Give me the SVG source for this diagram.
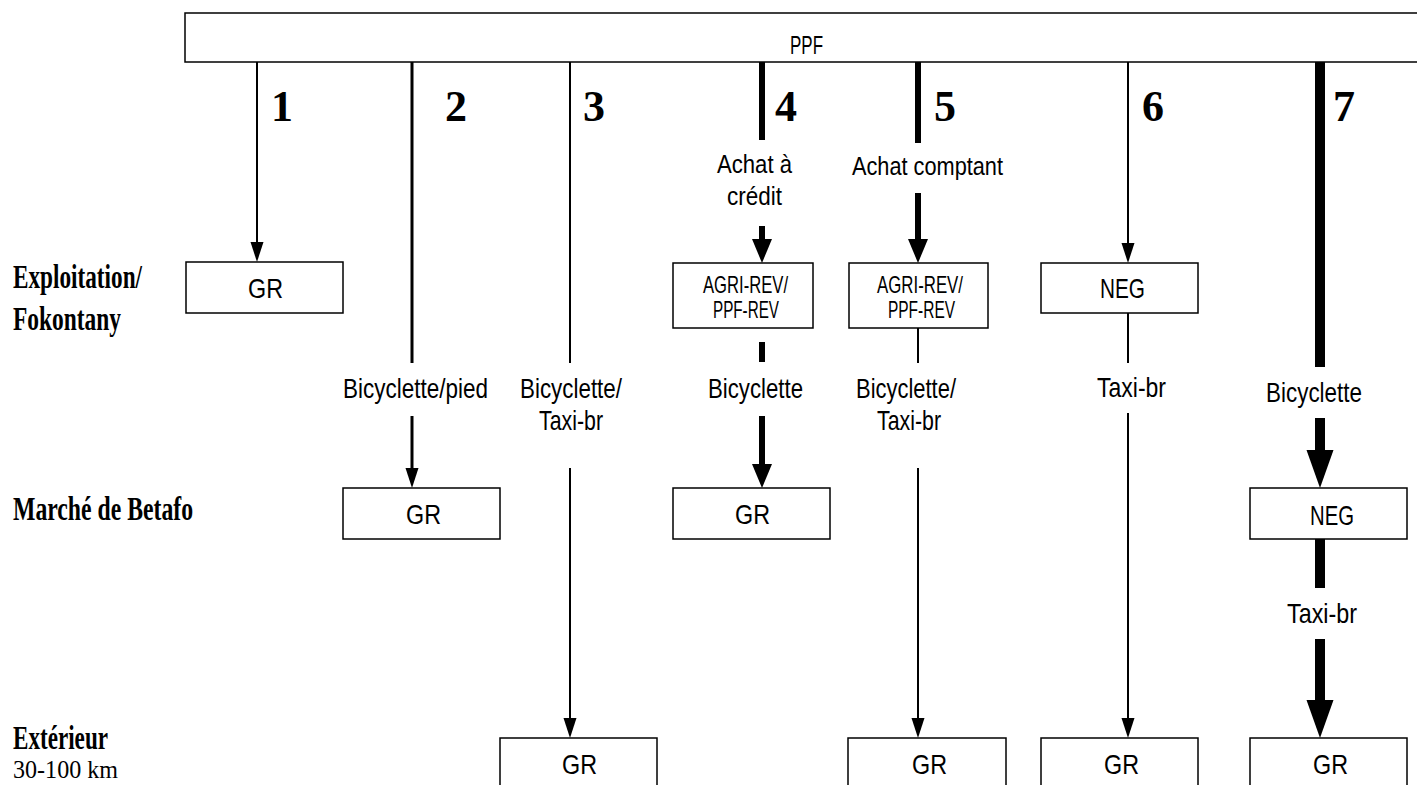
<svg xmlns="http://www.w3.org/2000/svg" width="1417" height="785" viewBox="0 0 1417 785">
<style>
.box{fill:#fff;stroke:#000;stroke-width:1.5}
.bt{font-family:"Liberation Sans",Arial,sans-serif;font-size:28px;fill:#000}
.st{font-family:"Liberation Sans",Arial,sans-serif;font-size:24px;fill:#000}
.lb{font-family:"Liberation Sans",Arial,sans-serif;font-size:28px;fill:#000}
.la{font-family:"Liberation Sans",Arial,sans-serif;font-size:26px;fill:#000}
.num{font-family:"Liberation Serif","Times New Roman",serif;font-size:44px;font-weight:bold;fill:#000}
.side{font-family:"Liberation Serif","Times New Roman",serif;font-size:33px;font-weight:bold;fill:#000}
.sider{font-family:"Liberation Serif","Times New Roman",serif;font-size:26px;fill:#000}
.c{stroke:#000;fill:none}
.w2{stroke-width:2}
.w3{stroke-width:3}
.w6{stroke-width:6}
.w10{stroke-width:10}
</style>
<defs>
<marker id="as" markerUnits="userSpaceOnUse" viewBox="0 -7 20 14" markerWidth="20" markerHeight="14" refX="1" refY="0" orient="auto"><path d="M0,-6.5 L20,0 L0,6.5 Z" fill="#000"/></marker>
<marker id="am" markerUnits="userSpaceOnUse" viewBox="0 -10 24 20" markerWidth="24" markerHeight="20" refX="1" refY="0" orient="auto"><path d="M0,-10 L24,0 L0,10 Z" fill="#000"/></marker>
<marker id="al" markerUnits="userSpaceOnUse" viewBox="0 -14 38 28" markerWidth="38" markerHeight="28" refX="1" refY="0" orient="auto"><path d="M0,-13.5 L38,0 L0,13.5 Z" fill="#000"/></marker>
</defs>
<rect width="1417" height="785" fill="#fff"/>

<g id="side-labels">
<text class="side" x="13" y="288" textLength="129" lengthAdjust="spacingAndGlyphs">Exploitation/</text>
<text class="side" x="13" y="330" textLength="108" lengthAdjust="spacingAndGlyphs">Fokontany</text>
<text class="side" x="13" y="520" textLength="180" lengthAdjust="spacingAndGlyphs">Marché de Betafo</text>
<text class="side" x="13" y="749" textLength="95" lengthAdjust="spacingAndGlyphs">Extérieur</text>
<text class="sider" x="13" y="778" textLength="105" lengthAdjust="spacingAndGlyphs">30-100 km</text>
</g>

<g id="connectors">
<line class="c w2" x1="257" y1="62" x2="257" y2="243" marker-end="url(#as)"/>
<line class="c w3" x1="412" y1="62" x2="412" y2="363"/>
<line class="c w3" x1="412" y1="416" x2="412" y2="469" marker-end="url(#as)"/>
<line class="c w2" x1="570" y1="62" x2="570" y2="363"/>
<line class="c w2" x1="570" y1="468" x2="570" y2="719" marker-end="url(#as)"/>
<line class="c w6" x1="762" y1="62" x2="762" y2="140"/>
<line class="c w6" x1="762" y1="226" x2="762" y2="240" marker-end="url(#am)"/>
<line class="c w6" x1="762" y1="342" x2="762" y2="362"/>
<line class="c w6" x1="762" y1="416" x2="762" y2="465" marker-end="url(#am)"/>
<line class="c w6" x1="918" y1="62" x2="918" y2="143"/>
<line class="c w6" x1="918" y1="193" x2="918" y2="240" marker-end="url(#am)"/>
<line class="c w2" x1="918" y1="328" x2="918" y2="363"/>
<line class="c w2" x1="918" y1="468" x2="918" y2="719" marker-end="url(#as)"/>
<line class="c w2" x1="1128" y1="62" x2="1128" y2="244" marker-end="url(#as)"/>
<line class="c w2" x1="1128" y1="313" x2="1128" y2="363"/>
<line class="c w2" x1="1128" y1="413" x2="1128" y2="719" marker-end="url(#as)"/>
<line class="c w10" x1="1320" y1="62" x2="1320" y2="367"/>
<line class="c w10" x1="1320" y1="418" x2="1320" y2="451" marker-end="url(#al)"/>
<line class="c w10" x1="1320" y1="539" x2="1320" y2="588"/>
<line class="c w10" x1="1320" y1="639" x2="1320" y2="701" marker-end="url(#al)"/>
</g>

<g id="connector-labels">
<text class="num" x="271" y="121">1</text>
<text class="num" x="445" y="121">2</text>
<text class="num" x="583" y="121">3</text>
<text class="num" x="775" y="121">4</text>
<text class="num" x="934" y="121">5</text>
<text class="num" x="1142" y="121">6</text>
<text class="num" x="1333" y="121">7</text>
<text class="la" x="717" y="173" textLength="75" lengthAdjust="spacingAndGlyphs">Achat à</text>
<text class="la" x="727" y="205" textLength="55" lengthAdjust="spacingAndGlyphs">crédit</text>
<text class="la" x="852" y="175" textLength="151" lengthAdjust="spacingAndGlyphs">Achat comptant</text>
<text class="lb" x="343" y="398" textLength="145" lengthAdjust="spacingAndGlyphs">Bicyclette/pied</text>
<text class="lb" x="520" y="398" textLength="102" lengthAdjust="spacingAndGlyphs">Bicyclette/</text>
<text class="lb" x="539" y="430" textLength="64" lengthAdjust="spacingAndGlyphs">Taxi-br</text>
<text class="lb" x="708" y="398" textLength="95" lengthAdjust="spacingAndGlyphs">Bicyclette</text>
<text class="lb" x="856" y="398" textLength="100" lengthAdjust="spacingAndGlyphs">Bicyclette/</text>
<text class="lb" x="877" y="430" textLength="64" lengthAdjust="spacingAndGlyphs">Taxi-br</text>
<text class="lb" x="1097" y="397" textLength="69" lengthAdjust="spacingAndGlyphs">Taxi-br</text>
<text class="lb" x="1266" y="402" textLength="96" lengthAdjust="spacingAndGlyphs">Bicyclette</text>
<text class="lb" x="1287" y="623" textLength="70" lengthAdjust="spacingAndGlyphs">Taxi-br</text>
</g>

<g id="ppf">
<rect class="box" x="185" y="13" width="1250" height="49"/>
<text class="bt" x="790" y="54" textLength="33" lengthAdjust="spacingAndGlyphs" style="font-size:25px">PPF</text>
</g>

<g id="gr1">
<rect class="box" x="186" y="262" width="157" height="51"/>
<text class="bt" x="248" y="298" textLength="35" lengthAdjust="spacingAndGlyphs">GR</text>
</g>
<g id="agri4">
<rect class="box" x="673" y="263" width="140" height="65"/>
<text class="st" x="703" y="293" textLength="85" lengthAdjust="spacingAndGlyphs">AGRI-REV/</text>
<text class="st" x="713" y="318" textLength="66" lengthAdjust="spacingAndGlyphs">PPF-REV</text>
</g>
<g id="agri5">
<rect class="box" x="849" y="263" width="139" height="65"/>
<text class="st" x="877" y="293" textLength="86" lengthAdjust="spacingAndGlyphs">AGRI-REV/</text>
<text class="st" x="888" y="318" textLength="67" lengthAdjust="spacingAndGlyphs">PPF-REV</text>
</g>
<g id="neg6">
<rect class="box" x="1041" y="263" width="157" height="50"/>
<text class="bt" x="1100" y="298" textLength="45" lengthAdjust="spacingAndGlyphs">NEG</text>
</g>
<g id="gr2">
<rect class="box" x="343" y="488" width="157" height="51"/>
<text class="bt" x="406" y="524" textLength="35" lengthAdjust="spacingAndGlyphs">GR</text>
</g>
<g id="gr4">
<rect class="box" x="673" y="488" width="157" height="51"/>
<text class="bt" x="735" y="524" textLength="35" lengthAdjust="spacingAndGlyphs">GR</text>
</g>
<g id="neg7">
<rect class="box" x="1250" y="488" width="157" height="51"/>
<text class="bt" x="1310" y="525" textLength="44" lengthAdjust="spacingAndGlyphs">NEG</text>
</g>
<g id="gr3">
<rect class="box" x="500" y="738" width="157" height="60"/>
<text class="bt" x="562" y="774" textLength="35" lengthAdjust="spacingAndGlyphs">GR</text>
</g>
<g id="gr5">
<rect class="box" x="848" y="738" width="158" height="60"/>
<text class="bt" x="912" y="774" textLength="35" lengthAdjust="spacingAndGlyphs">GR</text>
</g>
<g id="gr6">
<rect class="box" x="1041" y="738" width="157" height="60"/>
<text class="bt" x="1104" y="774" textLength="35" lengthAdjust="spacingAndGlyphs">GR</text>
</g>
<g id="gr7">
<rect class="box" x="1250" y="738" width="157" height="60"/>
<text class="bt" x="1313" y="774" textLength="35" lengthAdjust="spacingAndGlyphs">GR</text>
</g>
</svg>
